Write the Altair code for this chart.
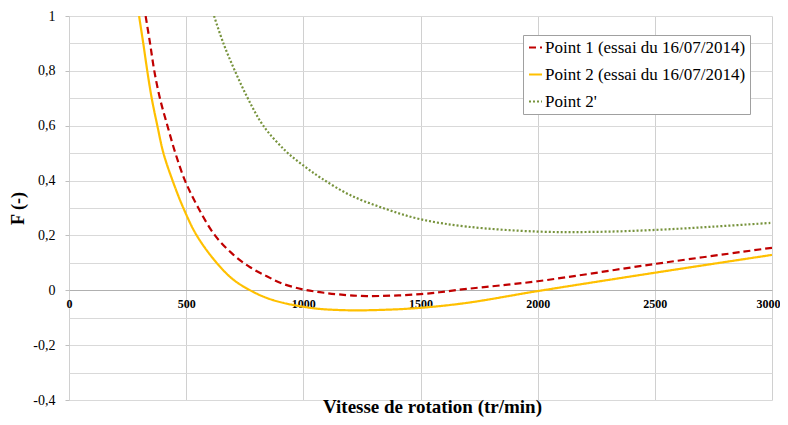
import altair as alt
import pandas as pd

SERIES = [
    "Point 1 (essai du 16/07/2014)",
    "Point 2 (essai du 16/07/2014)",
    "Point 2'",
]

p1_x = [327, 346, 364, 388, 420, 454, 495, 552, 623, 701, 773, 844, 915, 1000, 1071, 1150, 1270, 1500, 1697, 2000, 2500, 3000]
p1_y = [1.0, 0.9, 0.8, 0.7, 0.6, 0.5, 0.4, 0.3, 0.2, 0.13, 0.084, 0.051, 0.023, 0.003, -0.007, -0.015, -0.021, -0.014, 0.005, 0.033, 0.096, 0.155]

p2_x = [299, 317, 334, 353, 377, 403, 442, 488, 545, 630, 701, 773, 844, 915, 1000, 1071, 1200, 1350, 1500, 1697, 2000, 2500, 3000]
p2_y = [1.0, 0.9, 0.8, 0.7, 0.6, 0.5, 0.4, 0.3, 0.2, 0.1, 0.039, 0.0, -0.028, -0.046, -0.06, -0.068, -0.073, -0.071, -0.064, -0.046, -0.003, 0.064, 0.129]

p3_x = [619, 659, 708, 763, 829, 922, 1000, 1078, 1200, 1350, 1500, 1700, 2000, 2250, 2500, 2750, 3000]
p3_y = [1.0, 0.9, 0.8, 0.7, 0.6, 0.51, 0.455, 0.408, 0.347, 0.297, 0.259, 0.232, 0.214, 0.213, 0.22, 0.232, 0.246]

x_ticks = [0, 500, 1000, 1500, 2000, 2500, 3000]
y_ticks = [-0.4, -0.3, -0.2, -0.1, 0.0, 0.1, 0.2, 0.3, 0.4, 0.5, 0.6, 0.7, 0.8, 0.9, 1.0]

COLORS = ["#C00000", "#FFC000", "#77933C"]
DASHES = [[7, 4], [1, 0], [2, 2]]

rows = []
for name, xs, ys in zip(SERIES, [p1_x, p2_x, p3_x], [p1_y, p2_y, p3_y]):
    for i, (a, b) in enumerate(zip(xs, ys)):
        rows.append({"serie": name, "v": a, "F": b, "o": i})
df = pd.DataFrame(rows)

FONT = "'Liberation Serif', 'Times New Roman', 'DejaVu Serif', serif"
odd = "abs(round(datum.value*10)) % 2 == 1"

chart = alt.Chart(df).mark_line(interpolate="catmull-rom", strokeWidth=2.2, clip=True).encode(
    x=alt.X(
        "v:Q",
        scale=alt.Scale(domain=[0, 3000], nice=False),
        axis=alt.Axis(
            values=x_ticks,
            format="d",
            title=None,
            offset=-110,
            grid=True,
            gridColor="#D0D0D0",
            domainColor="#B0B0B0",
            ticks=False,
            tickSize=0,
            labelFont=FONT,
            labelFontSize=12,
            labelFontWeight="bold",
            labelColor="#000000",
            labelPadding=8,
            labelOffset={"condition": {"test": "datum.value >= 3000", "value": -4}, "value": 0},
            labelFlush=False,
            labelOverlap=False,
            labelBound=False,
        ),
    ),
    y=alt.Y(
        "F:Q",
        scale=alt.Scale(domain=[-0.4, 1.0], nice=False, zero=False),
        axis=alt.Axis(
            values=y_ticks,
            title="F (-)",
            titleFont=FONT,
            titleFontSize=18,
            titleFontWeight="bold",
            titleColor="#000000",
            titlePadding=5,
            grid=True,
            gridColor="#D9D9D9",
            domain=False,
            tickSize=4,
            tickColor="#BFBFBF",
            tickOpacity={"condition": {"test": odd, "value": 0}, "value": 1},
            labelFont=FONT,
            labelFontSize=14,
            labelColor="#000000",
            labelPadding=10,
            labelExpr="abs(round(datum.value*10)) % 2 == 1 ? '' : replace(replace(format(datum.value, '~g'), '.', ','), '\u2212', '-')",
        ),
    ),
    color=alt.Color(
        "serie:N",
        scale=alt.Scale(domain=SERIES, range=COLORS),
        legend=alt.Legend(
            title=None,
            orient="none",
            legendX=454,
            legendY=19,
            padding=4,
            strokeColor="#A0A0A0",
            fillColor="#FFFFFF",
            symbolType="stroke",
            symbolStrokeWidth=2,
            symbolSize=169,
            labelFont=FONT,
            labelFontSize=17,
            labelColor="#000000",
            labelLimit=400,
            labelOffset=1,
            rowPadding=9,
        ),
    ),
    strokeDash=alt.StrokeDash(
        "serie:N",
        scale=alt.Scale(domain=SERIES, range=DASHES),
        legend=alt.Legend(
            title=None,
            orient="none",
            legendX=454,
            legendY=19,
        ),
    ),
    order="o:Q",
).properties(
    width=703,
    height=384,
    title=alt.TitleParams(
        text="Vitesse de rotation (tr/min)",
        orient="bottom",
        anchor="middle",
        baseline="alphabetic",
        font=FONT,
        fontSize=19,
        fontWeight="bold",
        color="#000000",
        offset=6,
        dx=12,
    ),
    autosize=alt.AutoSizeParams(type="none"),
    padding={"left": 61, "top": 8, "right": 8, "bottom": 17},
).configure_view(stroke=None)

chart.save("out.html", embed_options={"renderer": "svg", "actions": False})
